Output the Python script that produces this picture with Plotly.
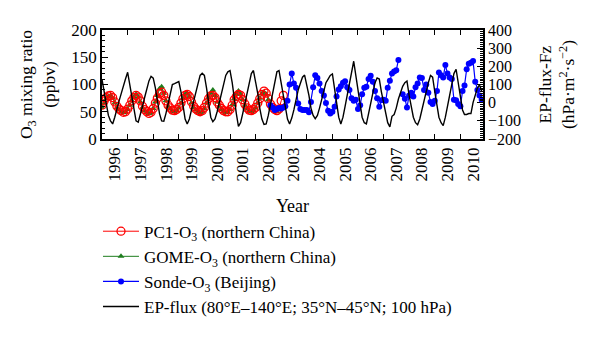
import pandas as pd
import plotly.graph_objects as go

# ---------------- data (monthly) ----------------
years = list(range(1996, 2011))
year_labels = [str(y) for y in years]

pc1_start = "1996-01-01"
pc1_o3 = [
    62, 70, 76, 79, 80, 76, 68, 60, 55, 52, 49, 50,
    55, 62, 70, 76, 80, 77, 70, 60, 54, 50, 47, 49,
    56, 66, 75, 83, 86, 80, 70, 62, 57, 53, 52, 54,
    58, 66, 74, 80, 82, 78, 68, 60, 55, 52, 50, 52,
    58, 66, 74, 79, 80, 76, 68, 62, 56, 52, 50, 50,
    54, 62, 72, 78, 82, 80, 72, 64, 57, 53, 52, 54,
    58, 66, 74, 82, 88, 84, 74, 64, 58, 54, 52, 55,
    70, 80,
]

gome_start = "1996-01-01"
gome_o3 = [
    58, 66, 74, 78, 80, 75, 66, 58, 53, 50, 48, 49,
    54, 62, 70, 77, 82, 77, 68, 58, 52, 49, 47, 48,
    56, 68, 80, 92, 96, 84, 70, 60, 55, 51, 50, 52,
    57, 66, 75, 82, 84, 78, 66, 58, 53, 50, 48, 50,
    56, 66, 76, 84, 90, 80, 68, 60, 54, 50, 48, 49,
    54, 63, 74, 82, 88, 82, 72, 62, 55, 51, 50, 52,
    57, 66, 75, 83, 86, 82, 72, 62, 56, 52, 50, 53,
]

sonde_start = "2002-08-01"
sonde_o3 = [
    62, 58, 53, 55, 57,
    56, 58, 60, 70, 100, 120, 102, 94, 65, 55, 53, 53,
    53, 49, 68, 95, 117, 112, 102, 88, 80, 66, 52, 47,
    50, 59, 78, 91, 97, 103, 106, 95, 90, 75, 70, 72,
    55, 62, 82, 94, 96, 110, 116, 105, 88, 75, 59, 71,
    72, 70, 94, 107, 120, 124, 126, 145, None, 82, 74, 58,
    80, 85, 78, 95, 102, 113, 112, 90, 100, 85, 68, 64,
    70, 88, 122, 117, 113, 136, 120, 113, 110, 72, 71, 64,
    60, 88, 98, 128, 138, 140, 143, 105, 90, 80, 72,
]

ep_start = "1996-01-01"
ep_flux = [
    128, 60, -10, -70, -100, -117, -80, -30, 10, 50, 95, 130,
    167, 100, 20, -50, -100, -107, -70, -20, 30, 80, 120, 145,
    135, 80, 0, -60, -100, -102, -60, 0, 50, 100, 105, 110,
    116, 60, -20, -90, -117, -90, -40, 10, 60, 110, 150, 162,
    150, 80, -10, -80, -105, -90, -50, 0, 50, 100, 150, 170,
    177, 110, 20, -60, -131, -110, -60, 0, 60, 120, 160, 177,
    120, 50, -30, -90, -120, -117, -70, -10, 50, 110, 170, 177,
    110, 40, -30, -90, -117, -85, -40, 20, 70, 105, 140, 152,
    100, 40, -30, -70, -88, -70, -30, 20, 70, 110, 130, 150,
    158, 80, 0, -80, -117, -80, -20, 40, 100, 160, 228, 150,
    60, -20, -80, -110, -117, -60, 0, 60, 110, 136, 130, 60,
    0, -60, -110, -133, -75, -65, -30, 20, 60, 90, 110, 119,
    40, -30, -80, -110, -122, -90, -40, 20, 70, 110, 150, 140,
    60, -30, -80, -110, -126, -80, -20, 50, 110, 160, 184, 110,
    20, -40, -65, -65, -60, -60, 0, 40, 80, 98, 64,
]


def months(start, n):
    return pd.date_range(start, periods=n, freq="MS")


FONT = "Liberation Serif"

fig = go.Figure()
fig.add_trace(go.Scatter(
    x=months(gome_start, len(gome_o3)), y=gome_o3, name="GOME-O<sub>3</sub> (northern China)",
    mode="lines+markers", line=dict(color="#1e7d1e", width=1),
    marker=dict(symbol="triangle-up", size=6, color="#1e7d1e"), legendrank=2))
fig.add_trace(go.Scatter(
    x=months(pc1_start, len(pc1_o3)), y=pc1_o3, name="PC1-O<sub>3</sub> (northern China)",
    mode="lines+markers", line=dict(color="#ff0000", width=1),
    marker=dict(symbol="circle-open", size=8, color="#ff0000", line=dict(width=1.3)), legendrank=1))
fig.add_trace(go.Scatter(
    x=months(sonde_start, len(sonde_o3)), y=sonde_o3, name="Sonde-O<sub>3</sub> (Beijing)",
    mode="lines+markers", line=dict(color="#0000ff", width=1.2), connectgaps=False,
    marker=dict(symbol="circle", size=6, color="#0000ff"), legendrank=3))
fig.add_trace(go.Scatter(
    x=months(ep_start, len(ep_flux)), y=ep_flux, yaxis="y2",
    name="EP-flux (80°E–140°E; 35°N–45°N; 100 hPa)",
    mode="lines", line=dict(color="#000000", width=1.4), legendrank=4))

axis_common = dict(showline=True, linecolor="black", linewidth=1.5, showgrid=False,
                   zeroline=False, tickfont=dict(family=FONT, size=17, color="black"),
                   tickcolor="black", tickwidth=1.2)

fig.update_layout(
    width=600, height=337,
    margin=dict(l=102, r=117, t=30, b=191),
    paper_bgcolor="white", plot_bgcolor="white",
    font=dict(family=FONT, size=17, color="black"),
    showlegend=True,
    legend=dict(x=-0.0105, y=-0.685, xanchor="left", yanchor="top",
                font=dict(family=FONT, size=17, color="black"),
                bgcolor="rgba(0,0,0,0)", tracegroupgap=0, itemwidth=36),
    xaxis=dict(
        type="date", range=["1996-01-01", "2010-11-20"],
        tickvals=[f"{y}-07-02" for y in years], ticktext=year_labels,
        tickangle=-90, ticks="", mirror="allticks",
        minor=dict(tickvals=[f"{y}-01-01" for y in years[1:]], ticks="inside",
                   ticklen=5, tickcolor="black", tickwidth=1.2),
        title=dict(text="Year", font=dict(family=FONT, size=18), standoff=19),
        **axis_common),
    yaxis=dict(
        range=[0, 200], tickvals=[0, 50, 100, 150, 200], ticks="inside", ticklen=6,
        minor=dict(dtick=10, ticks="inside", ticklen=3, tickcolor="black"),
        title=dict(text="O<sub>3</sub> mixing ratio<br>(ppbv)",
                   font=dict(family=FONT, size=17.5), standoff=11),
        **axis_common),
    yaxis2=dict(
        range=[-200, 400], tickvals=[-200, -100, 0, 100, 200, 300, 400],
        overlaying="y", side="right", ticks="inside", ticklen=6,
        minor=dict(dtick=10, ticks="inside", ticklen=3, tickcolor="black"),
        title=dict(text="EP-flux-Fz<br>(hPa·m<sup>2</sup>·s<sup>−2</sup>)",
                   font=dict(family=FONT, size=17.5), standoff=19),
        **dict(axis_common, tickfont=dict(family=FONT, size=16, color="black"))),
)

fig.write_html("out.html")
